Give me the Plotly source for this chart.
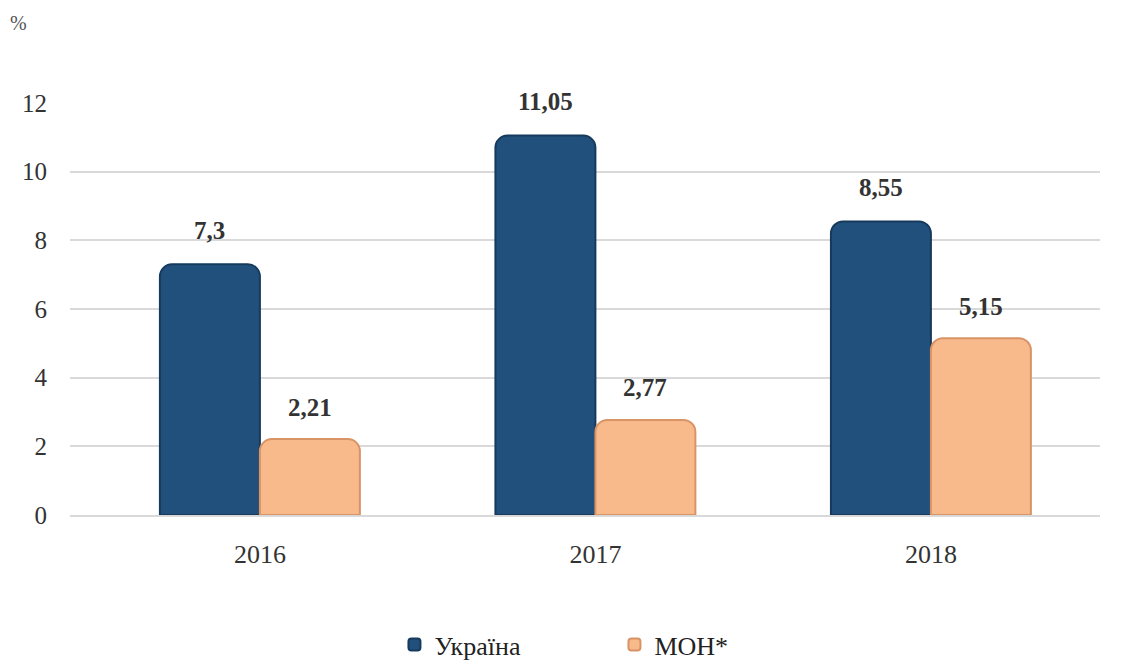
import plotly.graph_objects as go

years = ["2016", "2017", "2018"]
ukraine = [7.3, 11.05, 8.55]
mon = [2.21, 2.77, 5.15]
ukraine_labels = ["7,3", "11,05", "8,55"]
mon_labels = ["2,21", "2,77", "5,15"]
series_names = ["Україна", "МОН*"]
y_ticks = [0, 2, 4, 6, 8, 10, 12]

FONT = "Liberation Serif"
LEGEND_FONT = "Liberation Serif, DejaVu Serif, serif"
BLUE = "#22507c"
PEACH = "#f8b98b"

fig = go.Figure()
fig.add_trace(go.Bar(
    x=years, y=ukraine, name=series_names[0],
    marker=dict(color=BLUE, line=dict(color="#163a5c", width=2), cornerradius=12),
))
fig.add_trace(go.Bar(
    x=years, y=mon, name=series_names[1],
    marker=dict(color=PEACH, line=dict(color="#d89466", width=2), cornerradius=12),
))

half = 0.149
for i, (v, t) in enumerate(zip(ukraine, ukraine_labels)):
    fig.add_annotation(x=i - half, y=v, text="<b>" + t + "</b>", showarrow=False, yshift=34,
                       font=dict(family=FONT, size=25, color="#333333"))
for i, (v, t) in enumerate(zip(mon, mon_labels)):
    fig.add_annotation(x=i + half, y=v, text="<b>" + t + "</b>", showarrow=False, yshift=32,
                       font=dict(family=FONT, size=25, color="#333333"))

fig.add_annotation(xref="paper", yref="paper", x=-0.06, y=1.195, xanchor="left",
                   yanchor="middle", text="%", showarrow=False,
                   font=dict(family=FONT, size=20, color="#555555"))

fig.update_layout(
    width=1115, height=659,
    margin=dict(l=62, r=23, t=95, b=152),
    plot_bgcolor="white", paper_bgcolor="white",
    barmode="group", bargap=0.404, bargroupgap=0,
    font=dict(family=FONT, size=25, color="#333333"),
    showlegend=True,
    legend=dict(orientation="h", x=0.315, xanchor="left", yref="container",
                y=0.034, yanchor="middle",
                font=dict(family=LEGEND_FONT, size=26, color="#222222"),
                itemwidth=30, tracegroupgap=0, entrywidth=175),
    xaxis=dict(range=[-0.566, 2.504], showgrid=False, showline=True,
               linecolor="#d9d9d9", linewidth=2, ticks="",
               ticklabelstandoff=15, tickfont=dict(family=FONT, size=26, color="#333333")),
    yaxis=dict(range=[0, 12], tickvals=y_ticks, showgrid=True, gridcolor="#d9d9d9",
               gridwidth=2, zeroline=False, showline=False, ticks="",
               ticklabelstandoff=22, tickfont=dict(family=FONT, size=25, color="#333333")),
)

fig.write_html("out.html")
